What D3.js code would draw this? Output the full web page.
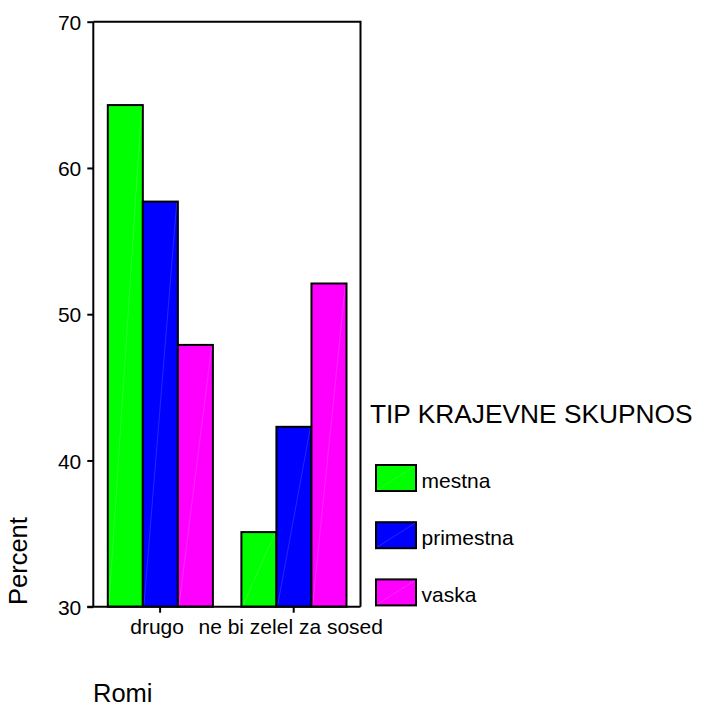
<!DOCTYPE html>
<html>
<head>
<meta charset="utf-8">
<script src="https://cdn.jsdelivr.net/npm/d3@7"></script>
<style>
  body { margin: 0; background: #fff; }
  text { font-family: "Liberation Sans", Arial, sans-serif; fill: #000; }
</style>
</head>
<body>
<svg id="chart" width="705" height="706"></svg>
<script>
// categories on the x axis
var categories = ["drugo", "ne bi zelel za sosed"];
// series (TIP KRAJEVNE SKUPNOS)
var series = ["mestna", "primestna", "vaska"];
var colors = ["#00ff00", "#0000ff", "#ff00ff"];
// percent values per series, same order as categories
var mestna = [64.3, 35.1];
var primestna = [57.7, 42.3];
var vaska = [47.9, 52.1];
var yTicks = [30, 40, 50, 60, 70];

var values = { mestna: mestna, primestna: primestna, vaska: vaska };

var svg = d3.select("#chart");

var plotLeft = 93.3, plotRight = 360.5, plotTop = 21.7, plotBottom = 606.7;

var x0 = d3.scaleBand()
    .domain(categories)
    .range([plotLeft, plotRight]);

var x1 = d3.scaleBand()
    .domain(series)
    .range([14.5, x0.bandwidth() - 14]);

var y = d3.scaleLinear()
    .domain([30, 70])
    .range([plotBottom, plotTop]);

var color = d3.scaleOrdinal()
    .domain(series)
    .range(colors);

// bars
var groups = svg.selectAll("g.grp")
    .data(categories)
    .enter().append("g")
    .attr("class", "grp")
    .attr("transform", function(d) { return "translate(" + x0(d) + ",0)"; });

var bars = groups.selectAll("g.bar")
    .data(function(c, i) {
        return series.map(function(s) { return { s: s, v: values[s][i] }; });
    })
    .enter().append("g")
    .attr("class", "bar");

bars.append("rect")
    .attr("x", function(d) { return x1(d.s); })
    .attr("y", function(d) { return y(d.v); })
    .attr("width", x1.bandwidth())
    .attr("height", function(d) { return y(30) - y(d.v); })
    .attr("fill", function(d) { return color(d.s); });

// faint seam like the original rendering
bars.append("line")
    .attr("x1", function(d) { return x1(d.s) + 1; })
    .attr("y1", y(30))
    .attr("x2", function(d) { return x1(d.s) + x1.bandwidth() - 1; })
    .attr("y2", function(d) { return y(d.v); })
    .attr("stroke", "#fff")
    .attr("stroke-opacity", 0.25)
    .attr("stroke-width", 0.6);

bars.append("rect")
    .attr("x", function(d) { return x1(d.s); })
    .attr("y", function(d) { return y(d.v); })
    .attr("width", x1.bandwidth())
    .attr("height", function(d) { return y(30) - y(d.v); })
    .attr("fill", "none")
    .attr("stroke", "#000")
    .attr("stroke-width", 2);

// frame (top and right)
svg.append("path")
    .attr("d", "M" + plotLeft + "," + plotTop + "H" + plotRight + "V" + plotBottom)
    .attr("fill", "none")
    .attr("stroke", "#000")
    .attr("stroke-width", 2);

// y axis
var yAxis = svg.append("g")
    .attr("transform", "translate(" + plotLeft + ",0)")
    .call(d3.axisLeft(y).tickValues(yTicks).tickSize(6).tickPadding(6));
yAxis.select(".domain").attr("stroke-width", 2).attr("d", "M0," + plotTop + "V" + plotBottom);
yAxis.selectAll(".tick line").attr("stroke-width", 2);
yAxis.selectAll(".tick text")
    .style("font-size", "21px")
    .style("font-family", "'Liberation Sans', Arial, sans-serif")
    .attr("dy", "0.36em");

// x axis
var xAxis = svg.append("g")
    .attr("transform", "translate(0," + plotBottom + ")")
    .call(d3.axisBottom(x0).tickSize(6).tickPadding(6));
xAxis.select(".domain").attr("stroke-width", 2).attr("d", "M" + (plotLeft - 6) + ",0H" + plotRight);
xAxis.selectAll(".tick line").attr("stroke-width", 2);
xAxis.selectAll(".tick text")
    .style("font-size", "21px")
    .style("font-family", "'Liberation Sans', Arial, sans-serif")
    .attr("x", -3)
    .attr("dy", "0.75em");

// axis titles
svg.append("text")
    .attr("transform", "translate(26.5,605) rotate(-90)")
    .style("font-size", "25.5px")
    .text("Percent");

svg.append("text")
    .attr("x", 93)
    .attr("y", 702)
    .style("font-size", "25.5px")
    .text("Romi");

// legend
var legend = svg.append("g");
legend.append("text")
    .attr("x", 370)
    .attr("y", 422.7)
    .style("font-size", "26.3px")
    .text("TIP KRAJEVNE SKUPNOS");

var items = legend.selectAll("g.item")
    .data(series)
    .enter().append("g")
    .attr("class", "item")
    .attr("transform", function(d, i) { return "translate(376," + (465 + i * 57.2) + ")"; });

items.append("rect")
    .attr("width", 40)
    .attr("height", 26)
    .attr("fill", function(d) { return color(d); })
    .attr("stroke", "#000")
    .attr("stroke-width", 2);

items.append("line")
    .attr("x1", 1).attr("y1", 25)
    .attr("x2", 39).attr("y2", 1)
    .attr("stroke", "#fff")
    .attr("stroke-opacity", 0.25)
    .attr("stroke-width", 0.6);

items.append("text")
    .attr("x", 45.5)
    .attr("y", 22.7)
    .style("font-size", "21px")
    .text(function(d) { return d; });
</script>
</body>
</html>
